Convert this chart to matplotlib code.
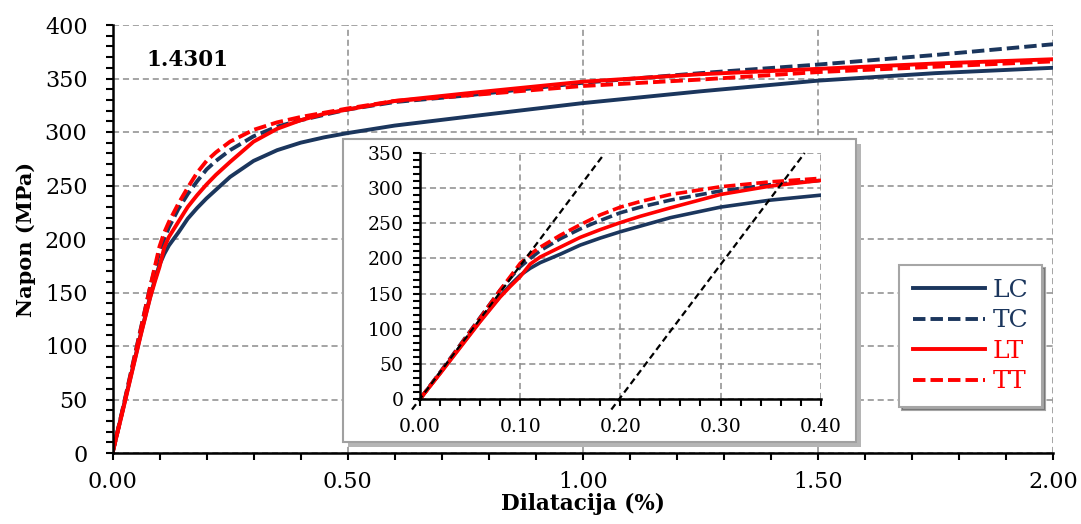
import matplotlib
matplotlib.use("Agg")
import matplotlib.pyplot as plt
from matplotlib.patches import Rectangle
from matplotlib.ticker import MultipleLocator, FormatStrFormatter

# strain (%) and stress (MPa)
strain = [0.0, 0.02, 0.04, 0.06, 0.08, 0.09, 0.10, 0.11, 0.12, 0.14, 0.16,
          0.18, 0.20, 0.22, 0.25, 0.30, 0.35, 0.40, 0.45, 0.50, 0.60, 0.75,
          1.00, 1.25, 1.50, 1.75, 2.00]
lc = [0, 37, 74, 111, 146, 162, 176, 186, 194, 206, 219,
      229, 238, 246, 258, 273, 283, 290, 295, 299, 306, 314,
      327, 338, 348, 355, 360]
tc = [0, 38, 77, 116, 155, 172, 188, 200, 211, 228, 242,
      254, 265, 273, 283, 296, 305, 311, 316, 321, 328, 334,
      346, 355, 363, 372, 382]
lt = [0, 36, 73, 110, 145, 160, 174, 192, 202, 216, 230,
      241, 251, 260, 272, 291, 303, 311, 317, 321, 329, 336,
      347, 354, 359, 364, 368]
tt = [0, 37, 76, 115, 155, 174, 193, 206, 216, 233, 248,
      262, 273, 281, 291, 302, 309, 314, 318, 322, 329, 334,
      343, 349, 356, 361, 366]

labels = ["LC", "TC", "LT", "TT"]
series = [lc, tc, lt, tt]

# 0.2% offset construction lines in the inset
off1_x = [-0.008, 0.183]
off1_y = [-15, 347]
off2_x = [0.191, 0.384]
off2_y = [-15, 350]

NAVY = "#1b365d"
RED = "#ff0000"
colors = [NAVY, NAVY, RED, RED]
DASH = (0, (3.2, 1.3))
styles = ["-", DASH, "-", DASH]
GRID = "#8c8c8c"

plt.rcParams["font.family"] = "DejaVu Serif"

fig = plt.figure(figsize=(10.81, 5.24), dpi=100)
W, H = 1081, 524


def frac(x0, y0, x1, y1):
    """pixel box (top-left origin) -> figure fraction rect"""
    return [x0 / W, 1 - y1 / H, (x1 - x0) / W, (y1 - y0) / H]


def style_axes(ax, fs, pad_x, pad_y):
    for side in ("top", "right"):
        ax.spines[side].set_visible(False)
    for side in ("left", "bottom"):
        ax.spines[side].set_linewidth(1.8)
    ax.tick_params(which="both", direction="out", width=1.5, length=5,
                   labelsize=fs)
    ax.tick_params(axis="x", which="major", pad=pad_x)
    ax.tick_params(axis="y", which="major", pad=pad_y)
    ax.grid(True, which="major", color=GRID, linestyle=(0, (4, 2.5)),
            linewidth=1.1)
    ax.set_axisbelow(True)


# main chart
ax = fig.add_axes(frac(112.5, 25, 1053, 453))
for ys, lab, c, ls in zip(series, labels, colors, styles):
    ax.plot(strain, ys, color=c, linestyle=ls, linewidth=2.8, label=lab)
ax.set_xlim(0, 2.0)
ax.set_ylim(0, 400)
ax.xaxis.set_major_locator(MultipleLocator(0.5))
ax.xaxis.set_minor_locator(MultipleLocator(0.1))
ax.yaxis.set_major_locator(MultipleLocator(50))
ax.yaxis.set_minor_locator(MultipleLocator(10))
ax.xaxis.set_major_formatter(FormatStrFormatter("%.2f"))
style_axes(ax, 16, 8, 13)
ax.set_xlabel("Dilatacija (%)", fontsize=15.5, fontweight="bold", labelpad=0)
ax.set_ylabel("Napon (MPa)", fontsize=15, fontweight="bold", labelpad=6)
ax.text(0.072, 367, "1.4301", fontsize=15.5, fontweight="bold",
        ha="left", va="center")

leg = ax.legend(loc="upper left", bbox_to_anchor=(899 / W, 1 - 265 / H),
                bbox_transform=fig.transFigure, borderaxespad=0, fontsize=18,
                handlelength=2.9, handletextpad=0.3, labelspacing=0.3,
                borderpad=0.55, frameon=True, fancybox=False, shadow=True,
                framealpha=1, edgecolor="#a6a6a6")
leg.get_frame().set_linewidth(1.5)
for txt, c in zip(leg.get_texts(), colors):
    txt.set_color(c)

# inset frame with a soft offset shadow
bx0, by0, bx1, by1 = 343, 139, 856, 442
shadow = Rectangle(((bx0 + 5) / W, 1 - (by1 + 5) / H), (bx1 - bx0) / W,
                   (by1 - by0) / H, transform=fig.transFigure,
                   facecolor="#b5b5b5", edgecolor="none", zorder=2)
box = Rectangle((bx0 / W, 1 - by1 / H), (bx1 - bx0) / W, (by1 - by0) / H,
                transform=fig.transFigure, facecolor="white",
                edgecolor="#a0a0a0", linewidth=1.5, zorder=3)
fig.patches.extend([shadow, box])

ins = fig.add_axes(frac(420, 153, 820.7, 399), zorder=5)
ins.patch.set_alpha(0)
for ys, lab, c, ls in zip(series, labels, colors, styles):
    ins.plot(strain, ys, color=c, linestyle=ls, linewidth=2.6)
ins.plot(off1_x, off1_y, color="black", linestyle=(0, (3, 1.8)),
         linewidth=1.6, clip_on=False)
ins.plot(off2_x, off2_y, color="black", linestyle=(0, (3, 1.8)),
         linewidth=1.6, clip_on=False)
ins.set_xlim(0, 0.4)
ins.set_ylim(0, 350)
ins.xaxis.set_major_locator(MultipleLocator(0.1))
ins.xaxis.set_minor_locator(MultipleLocator(0.02))
ins.yaxis.set_major_locator(MultipleLocator(50))
ins.yaxis.set_minor_locator(MultipleLocator(10))
ins.xaxis.set_major_formatter(FormatStrFormatter("%.2f"))
style_axes(ins, 13.5, 9, 7)

fig.savefig("out.png", dpi=100)
